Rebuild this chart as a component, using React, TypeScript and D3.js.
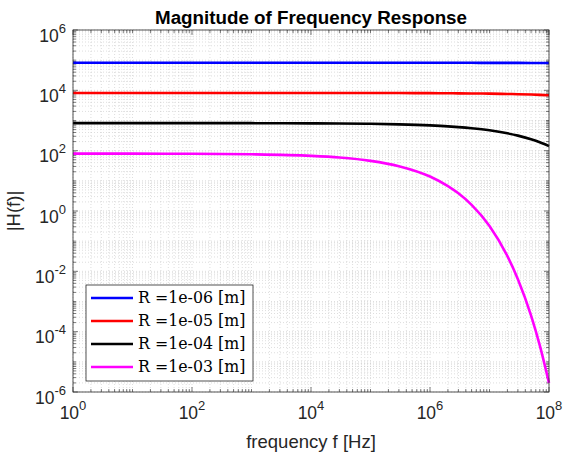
import React from "react";
import * as d3 from "d3";

const freqs = [1, 10, 100, 1e3, 1e4, 3e4, 1e5, 3e5, 1e6, 2e6, 3e6, 5e6, 1e7, 2e7, 3e7, 5e7, 7e7, 1e8];
const seriesR6 = [82000, 82000, 82000, 82000, 81990, 81980, 81950, 81920, 81860, 81800, 81750, 81700, 81550, 81360, 81220, 80990, 80810, 80580];
const seriesR5 = [8200, 8200, 8200, 8195, 8186, 8175, 8155, 8122, 8058, 8000, 7955, 7885, 7759, 7582, 7451, 7245, 7083, 6884];
const seriesR4 = [820, 819.5, 818.6, 815.5, 805.8, 795.5, 775.9, 745, 688, 640, 604, 553, 472, 375, 315, 237, 189, 142];
const seriesR3 = [80, 79.6, 78.6, 75.7, 67.2, 59.1, 46.0, 30.7, 13.9, 6.7, 3.86, 1.6, 0.32, 0.032, 5.5e-3, 3.4e-4, 3.5e-5, 2.0e-6];
const legendLabels = ["R =1e-06 [m]", "R =1e-05 [m]", "R =1e-04 [m]", "R =1e-03 [m]"];
const colors = ["#0000ff", "#ff0000", "#000000", "#ff00ff"];
const xTickExps = [0, 2, 4, 6, 8];
const yTickExps = [-6, -4, -2, 0, 2, 4, 6];

const W = 565, H = 455;
const left = 73, right = 549, top = 30, bottom = 392;

export default function App() {
  const x = d3.scaleLog().domain([1, 1e8]).range([left, right]);
  const y = d3.scaleLog().domain([1e-6, 1e6]).range([bottom, top]);
  const series = [seriesR6, seriesR5, seriesR4, seriesR3];
  const line = d3.line<number>()
    .x((_, i) => x(freqs[i]))
    .y((d) => y(d))
    .curve(d3.curveMonotoneX);

  const xMinor: number[] = [];
  for (let e = 0; e < 8; e++) for (let k = 1; k < 10; k++) xMinor.push(k * Math.pow(10, e));
  xMinor.push(1e8);
  const yMinor: number[] = [];
  for (let e = -6; e < 6; e++) for (let k = 1; k < 10; k++) yMinor.push(k * Math.pow(10, e));
  yMinor.push(1e6);
  const isMajorX = (v: number) => xTickExps.some((e) => Math.abs(Math.log10(v) - e) < 1e-9);
  const isMajorY = (v: number) => yTickExps.some((e) => Math.abs(Math.log10(v) - e) < 1e-9);

  const axisColor = "#262626";
  const font = "'Liberation Sans', Arial, Helvetica, sans-serif";

  return (
    <svg width={W} height={H} style={{ position: "absolute", left: 0, top: 0, background: "#fff" }}>
      <rect x={0} y={0} width={W} height={H} fill="#fff" />
      {/* grid */}
      <g stroke="#c8c8c8" strokeWidth={0.6} strokeDasharray="1,2">
        {xMinor.map((v, i) => (
          <line key={"gx" + i} x1={x(v)} x2={x(v)} y1={top} y2={bottom} />
        ))}
        {yMinor.map((v, i) => (
          <line key={"gy" + i} x1={left} x2={right} y1={y(v)} y2={y(v)} />
        ))}
      </g>
      {/* ticks */}
      <g stroke={axisColor} strokeWidth={0.6}>
        {xMinor.map((v, i) => {
          const len = isMajorX(v) ? 5 : 3;
          return (
            <g key={"tx" + i}>
              <line x1={x(v)} x2={x(v)} y1={bottom} y2={bottom - len} />
              <line x1={x(v)} x2={x(v)} y1={top} y2={top + len} />
            </g>
          );
        })}
        {yMinor.map((v, i) => {
          const len = isMajorY(v) ? 5 : 3;
          return (
            <g key={"ty" + i}>
              <line x1={left} x2={left + len} y1={y(v)} y2={y(v)} />
              <line x1={right} x2={right - len} y1={y(v)} y2={y(v)} />
            </g>
          );
        })}
      </g>
      {/* lines */}
      <g fill="none" strokeWidth={2.6}>
        {series.map((s, i) => (
          <path key={"s" + i} d={line(s) || ""} stroke={colors[i]} />
        ))}
      </g>
      {/* box */}
      <rect x={left} y={top} width={right - left} height={bottom - top} fill="none" stroke={axisColor} strokeWidth={0.8} />
      {/* x tick labels */}
      {xTickExps.map((e) => (
        <text key={"xl" + e} x={x(Math.pow(10, e))} y={bottom + 27} textAnchor="middle" fontFamily={font} fontSize={17.5} fill={axisColor}>
          10<tspan dy={-9} fontSize={13}>{e}</tspan>
        </text>
      ))}
      {/* y tick labels */}
      {yTickExps.map((e) => (
        <text key={"yl" + e} x={left - 7} y={y(Math.pow(10, e)) + 11.5} textAnchor="end" fontFamily={font} fontSize={17.5} fill={axisColor}>
          10<tspan dy={-9} fontSize={13}>{e}</tspan>
        </text>
      ))}
      {/* title */}
      <text x={(left + right) / 2} y={24} textAnchor="middle" fontFamily={font} fontSize={18.8} fontWeight="bold" fill="#000">
        Magnitude of Frequency Response
      </text>
      {/* x label */}
      <text x={(left + right) / 2} y={448} textAnchor="middle" fontFamily={font} fontSize={18.5} fill={axisColor}>
        frequency f [Hz]
      </text>
      {/* y label */}
      <text transform={`translate(20, ${(top + bottom) / 2}) rotate(-90)`} textAnchor="middle" fontFamily={font} fontSize={18.5} fill={axisColor}>
        |H(f)|
      </text>
      {/* legend */}
      <g>
        <rect x={86} y={285} width={167} height={96} fill="#fff" stroke={axisColor} strokeWidth={0.8} />
        {legendLabels.map((lab, i) => {
          const ly = 298 + i * 23;
          return (
            <g key={"lg" + i}>
              <line x1={91} x2={133} y1={ly} y2={ly} stroke={colors[i]} strokeWidth={2.6} />
              <text x={138} y={ly + 5} fontFamily="'DejaVu Serif', 'Liberation Serif', serif" fontSize={15.8} fill="#000">
                {lab}
              </text>
            </g>
          );
        })}
      </g>
    </svg>
  );
}
